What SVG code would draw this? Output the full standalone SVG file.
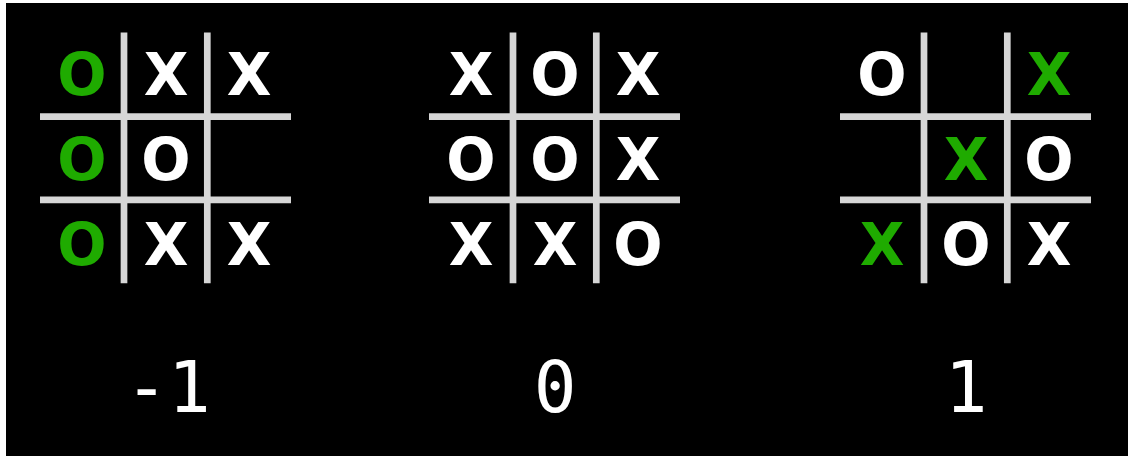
<svg xmlns="http://www.w3.org/2000/svg" width="1128" height="456" viewBox="0 0 1128 456">
<style>
.bg{fill:#000}
.ln{stroke:#d6d6d6;stroke-width:6.7;fill:none}
.m{font-family:"DejaVu Sans",sans-serif;font-weight:700;font-size:58px;text-anchor:middle;fill:#fff}
.g{fill:#1fab00}
.s{font-family:"DejaVu Sans Mono",monospace;font-size:71px;text-anchor:middle;fill:#fff}
</style>
<rect width="1128" height="456" fill="#fff"/>
<rect class="bg" x="6" y="3" width="1122" height="453"/>
<defs>
<g id="grid">
<line class="ln" x1="40" y1="116.7" x2="291" y2="116.7"/>
<line class="ln" x1="40" y1="199.8" x2="291" y2="199.8"/>
<line class="ln" x1="124" y1="32.5" x2="124" y2="283.3"/>
<line class="ln" x1="207.3" y1="32.5" x2="207.3" y2="283.3"/>
</g>
</defs>
<g id="board1">
<use href="#grid"/>
<text class="m g" x="82" y="95">O</text>
<text class="m" x="166" y="95">X</text>
<text class="m" x="249" y="95">X</text>
<text class="m g" x="82" y="180">O</text>
<text class="m" x="166" y="180">O</text>
<text class="m g" x="82" y="265">O</text>
<text class="m" x="166" y="265">X</text>
<text class="m" x="249" y="265">X</text>
<text class="s" x="168" y="411.7">-1</text>
</g>
<g id="board2">
<use href="#grid" x="389"/>
<text class="m" x="471" y="95">X</text>
<text class="m" x="555" y="95">O</text>
<text class="m" x="638" y="95">X</text>
<text class="m" x="471" y="180">O</text>
<text class="m" x="555" y="180">O</text>
<text class="m" x="638" y="180">X</text>
<text class="m" x="471" y="265">X</text>
<text class="m" x="555" y="265">X</text>
<text class="m" x="638" y="265">O</text>
<text class="s" x="555" y="411.7">0</text>
</g>
<g id="board3">
<use href="#grid" x="800"/>
<text class="m" x="882" y="95">O</text>
<text class="m g" x="1049" y="95">X</text>
<text class="m g" x="966" y="180">X</text>
<text class="m" x="1049" y="180">O</text>
<text class="m g" x="882" y="265">X</text>
<text class="m" x="966" y="265">O</text>
<text class="m" x="1049" y="265">X</text>
<text class="s" x="966" y="411.7">1</text>
</g>
<g id="connectors"/>
</svg>
